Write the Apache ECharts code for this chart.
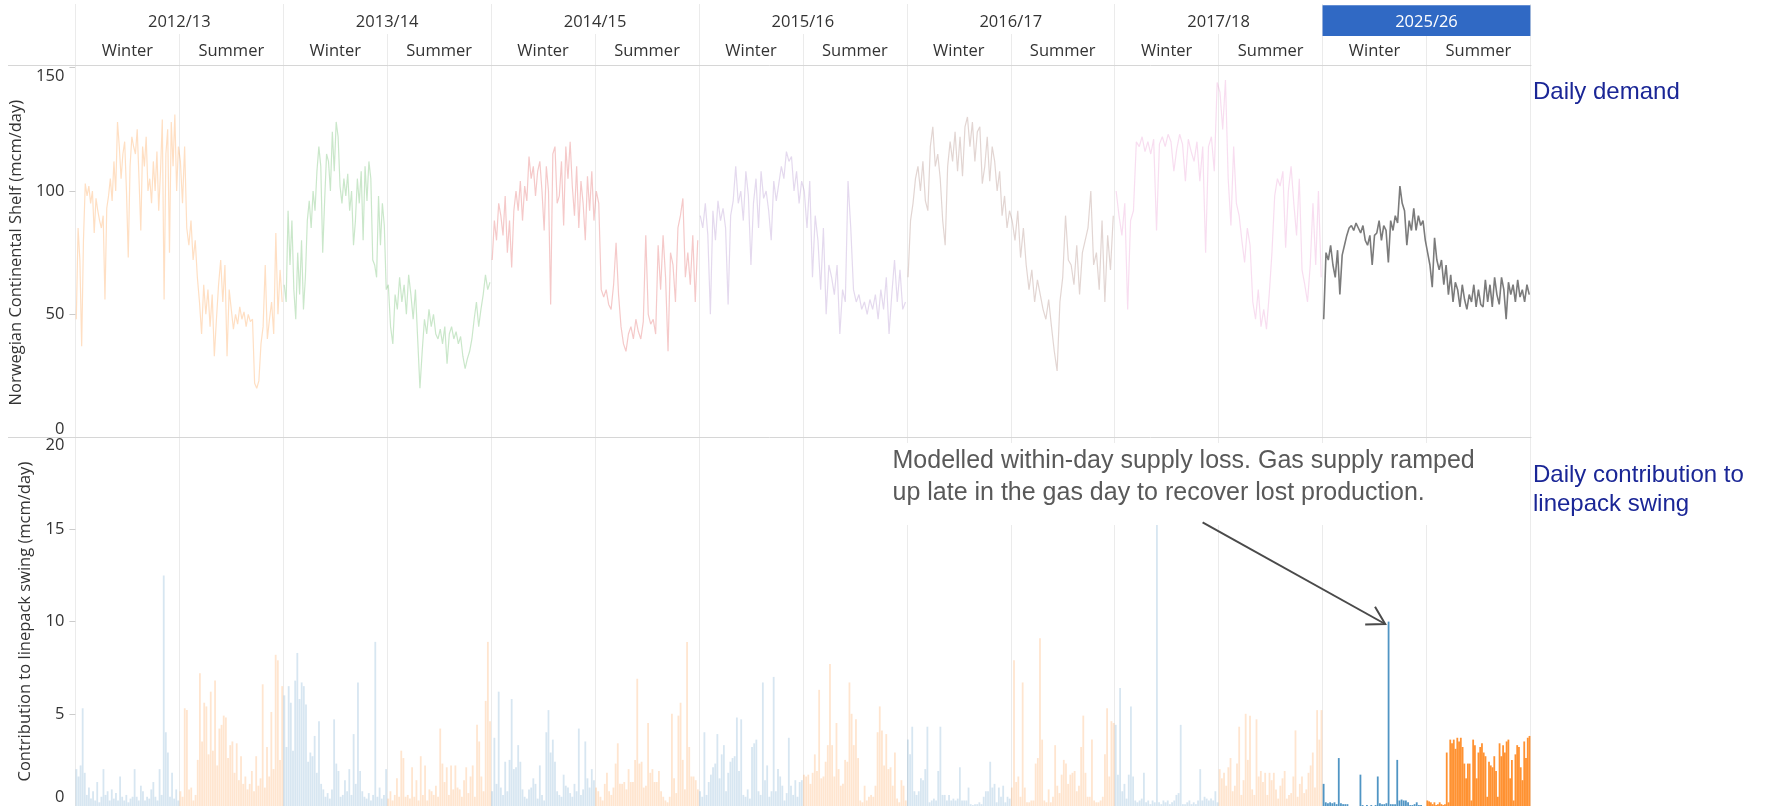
<!DOCTYPE html>
<html>
<head>
<meta charset="utf-8">
<script src="https://cdn.jsdelivr.net/npm/echarts@6/dist/echarts.min.js"></script>
<style>
html,body{margin:0;padding:0;background:#fff;}
#chart{width:1765px;height:806px;}
</style>
</head>
<body>
<div id="chart"></div>
<script>
// ---------- categories & ticks ----------
const years = ['2012/13','2013/14','2014/15','2015/16','2016/17','2017/18','2025/26'];
const seasons = ['Winter','Summer'];
const highlightYear = '2025/26';
const demandTicks = [0, 50, 100, 150];
const swingTicks = [0, 5, 10, 15, 20];
const demandTitle = 'Norwegian Continental Shelf (mcm/day)';
const swingTitle = 'Contribution to linepack swing (mcm/day)';
const panelLabelTop = 'Daily demand';
const panelLabelBottom = ['Daily contribution to', 'linepack swing'];
const annotationText = ['Modelled within-day supply loss. Gas supply ramped', 'up late in the gas day to recover lost production.'];

// ---------- daily demand (mcm/day), sampled through each half-season ----------
const dem1213W = [48,85,72,37,80,103,98,102,95,100,83,97,92,88,85,90,56,93,98,105,96,112,100,128,118,105,115,120,100,73,110,122,118,115,125,105,84,118,110,122,100,105,95,112,100,116,92,108,129,56,115,125,75,128,110,131,100,118];
const dem1213S = [112,95,118,85,78,88,72,80,65,55,42,62,50,60,45,58,33,48,62,72,55,70,33,60,52,44,50,46,53,48,51,45,50,47,48,22,20,23,38,45,70,40,48,55,42,83,50,68,55];
const dem1314W = [62,55,92,70,88,60,48,75,58,80,52,65,88,96,85,100,92,108,118,110,75,96,115,112,100,124,108,128,122,102,95,105,98,107,92,100,78,88,105,95,108,80,110,96,112,105,72,70,65,98,78,95,86,60];
const dem1314S = [62,45,38,58,52,65,55,62,50,66,58,48,60,40,20,35,48,42,52,45,50,42,40,44,38,45,30,42,45,40,43,38,41,33,28,32,35,40,48,55,45,52,58,66,60,63];
const dem1415W = [72,88,80,95,90,82,98,75,88,69,92,100,92,104,88,102,96,114,105,110,98,108,112,100,84,110,100,54,115,118,95,98,112,86,118,105,120,102,90,110,85,104,95,80,106,92,108,88];
const dem1415S = [100,95,60,57,60,54,52,62,79,58,45,38,35,42,45,40,48,43,40,47,82,50,46,48,42,78,60,82,65,35,75,70,55,85,90,97,65,75,62,82,55,80];
const dem1516W = [90,85,95,82,50,92,80,96,88,93,85,54,90,96,110,95,100,88,108,98,70,95,105,85,108,97,100,92,80,104,96,103,110,105,116,112,114,100,108,95,104];
const dem1516S = [100,85,104,65,90,80,60,85,50,70,65,58,70,42,60,55,104,85,60,55,58,52,55,50,56,52,58,48,60,52,65,42,58,72,55,68,52,55];
const dem1617W = [65,88,95,105,110,100,112,96,92,118,126,110,115,105,88,78,110,120,112,124,108,122,106,126,130,118,128,112,124,126,103,110,122,104,118,112,100,108,90,98,85,92];
const dem1617S = [88,80,92,73,85,70,60,68,55,64,58,52,48,56,45,35,27,55,65,90,72,70,62,78,58,75,80,85,100,70,75,60,88,55,82,68,90];
const dem1718W = [100,90,82,95,52,88,92,120,118,122,116,120,115,121,84,119,122,118,123,120,108,117,123,119,104,121,116,112,120,104,118,75,118,122,108,144];
const dem1718S = [140,125,145,105,86,118,95,90,80,71,85,78,55,48,60,45,52,44,58,75,98,105,102,108,77,100,110,95,82,105,68,62,55,70,95,70,100,65];
const dem2526W = [48,75,72,78,70,65,76,58,74,78,82,85,86,84,87,85,83,86,80,78,82,70,82,83,88,80,86,84,71,88,84,90,87,102,95,92,78,88,84,93,84,90,86,88,80];
const dem2526S = [75,70,61,81,72,68,72,62,70,58,66,55,63,60,53,62,56,52,58,55,62,53,60,54,53,64,55,62,53,65,58,54,65,60,48,63,58,62,55,64,57,60,55,62,58];

// ---------- daily contribution to linepack swing (mcm/day) ----------
const sw1213W = [2.0,1.6,2.2,5.3,1.8,0.6,1.0,0.4,0.8,0.3,1.3,0.2,0.5,2.0,0.6,0.8,0.3,0.9,0.4,0.7,0.3,1.6,0.5,0.3,0.6,0.2,0.4,0.5,2.0,0.5,0.3,1.1,0.8,0.3,0.5,0.4,0.9,1.3,0.5,0.3,2.0,0.6,12.5,4.0,2.9,0.5,1.8,0.4,0.9,0.3];
const sw1213S = [0.8,0.5,5.3,5.2,0.9,1.0,0.3,0.6,2.5,7.2,3.5,5.6,5.4,2.8,6.2,3.0,6.8,2.2,4.2,4.4,4.9,4.8,2.6,3.3,3.5,1.8,3.4,1.4,2.7,1.2,1.6,0.9,1.2,1.9,0.8,2.7,1.1,1.5,6.6,1.0,3.2,1.6,5.1,2.0,8.2,7.9,2.5,6.5];
const sw1314W = [6.0,3.2,6.5,5.6,3.0,6.8,8.3,5.8,6.7,6.5,5.5,2.4,2.9,2.7,3.8,1.8,4.6,1.2,0.9,0.5,0.7,0.4,0.9,4.7,2.3,1.9,0.5,0.6,1.4,0.8,2.0,0.6,3.9,1.2,6.7,1.9,0.8,0.5,0.4,0.7,0.3,0.6,8.9,0.5,1.0,0.4,0.6,2.0];
const sw1314S = [0.4,0.8,0.3,0.6,1.5,0.5,3.0,2.6,0.5,0.6,0.4,2.1,0.5,1.4,0.3,2.7,0.6,2.2,0.3,0.9,0.8,0.6,1.1,0.5,4.2,2.3,1.3,2.1,0.6,2.2,0.9,2.2,1.0,0.9,0.5,1.4,2.1,0.7,1.6,2.2,0.5,4.4,3.5,1.6,0.8,5.7,8.9,4.6];
const sw1415W = [0.8,3.7,1.2,6.2,1.0,0.6,2.4,0.8,2.5,5.8,2.0,2.1,3.3,2.4,0.9,0.5,0.4,0.9,1.0,1.5,1.2,0.4,2.2,0.6,0.3,4.0,5.2,2.9,3.6,2.4,0.8,0.6,0.5,1.7,1.1,1.0,0.7,0.5,1.2,0.8,4.2,0.6,0.9,3.5,1.5,1.0,2.0,1.4];
const sw1415S = [1.0,0.8,0.5,0.3,1.2,1.8,0.8,0.6,1.0,2.3,3.4,1.2,1.2,1.3,0.9,2.0,1.3,1.3,2.5,6.9,2.3,2.4,1.0,1.1,4.5,1.8,2.0,1.3,1.3,1.9,0.8,0.5,0.3,0.2,0.5,5.0,1.5,0.7,4.9,5.6,2.5,0.9,8.9,3.2,1.6,1.6,1.4,0.9];
const sw1516W = [0.8,0.5,4.0,0.6,1.3,1.7,2.1,2.3,3.9,1.5,2.8,3.3,0.8,1.8,2.4,2.6,2.7,4.8,1.9,4.7,0.6,0.5,0.9,0.4,3.2,3.4,3.6,0.8,0.6,6.7,1.4,2.2,0.5,0.8,7.0,0.8,2.0,1.6,1.1,0.3,0.7,3.7,1.1,0.6,1.4,0.5,1.3,1.4];
const sw1516S = [1.7,1.6,1.7,1.2,1.8,2.8,1.9,6.3,1.5,1.6,2.4,3.3,7.7,3.3,1.6,4.5,2.0,1.1,1.2,2.5,2.4,6.7,5.0,3.3,4.7,2.6,0.3,0.2,1.1,0.3,0.5,0.6,0.5,1.1,4.0,5.4,4.1,2.2,3.9,2.0,2.1,1.1,2.9,0.4,0.2,1.4,1.1,0.3];
const sw1617W = [3.6,2.8,4.3,0.8,0.6,0.8,1.5,1.4,2.0,4.3,0.2,0.3,0.4,0.3,1.9,4.3,0.6,0.6,0.3,0.6,0.3,0.4,0.3,0.4,2.1,0.3,0.3,0.3,1.0,0.1,0.05,0.1,0.1,0.2,0.1,0.5,0.8,0.8,2.4,1.0,1.2,0.2,1.0,0.5,1.1,0.2,0.5,0.4];
const sw1617S = [1.0,7.9,1.3,1.6,0.5,6.7,1.0,0.2,0.2,0.3,0.3,2.3,2.6,9.1,3.6,0.3,0.2,0.9,0.2,0.5,3.3,1.1,0.7,1.7,2.5,2.3,1.2,1.7,1.8,1.9,0.8,1.1,3.2,4.9,1.8,0.5,0.5,3.6,0.3,0.2,0.2,0.3,0.5,2.8,5.3,1.6,4.6,4.5];
const sw1718W = [4.4,1.7,6.4,0.8,1.2,0.4,1.7,5.4,1.6,0.3,0.2,0.3,0.4,1.8,0.2,0.3,0.1,0.3,0.2,15.3,0.2,0.1,0.3,0.2,0.3,0.1,0.2,0.3,0.6,0.7,4.4,0.1,0.1,0.2,0.3,0.1,0.2,0.1,0.3,2.0,0.3,0.5,0.4,0.3,0.4,0.3,0.8,0.2];
const sw1718S = [2.0,1.5,1.8,1.1,2.1,2.6,0.8,1.1,2.3,4.3,0.6,1.4,5.0,2.5,4.9,0.9,0.6,4.7,1.6,1.9,1.3,1.8,0.6,1.8,1.4,1.8,0.9,0.4,1.1,1.5,1.9,0.4,0.6,0.7,1.6,4.1,0.5,1.2,1.6,0.7,0.9,1.8,2.2,2.9,1.0,5.2,3.6,5.2];
const sw2526W = [1.2,0.2,0.15,0.2,0.15,0.2,0.1,2.6,0.15,0.1,0.1,0.1,0,0,0,0,0,1.7,0.05,0,0.05,0,0.05,0,0.05,1.6,0.15,0.1,0.1,0.15,10.0,0.1,0.1,0.1,2.5,0.3,0.35,0.3,0.3,0.2,0.05,0.05,0.1,0.2,0.05,0.05,0,0];
const sw2526S = [0.3,0.25,0.2,0.1,0.2,0.05,0.1,0.2,0.1,0.05,0.1,2.9,0.2,3.6,3.4,3.6,3.1,3.7,3.5,3.7,3.2,2.3,1.5,2.3,2.3,0.3,3.6,3.3,1.5,2.9,3.2,3.4,2.9,2.7,0.5,2.4,2.2,2.1,2.7,1.9,0.5,3.4,2.7,3.3,2.9,3.5,3.6,1.5,2.5,0.3,2.8,3.3,3.2,2.1,1.4,3.5,2.6,3.7,3.8];

const demandByHalf = [dem1213W,dem1213S,dem1314W,dem1314S,dem1415W,dem1415S,dem1516W,dem1516S,dem1617W,dem1617S,dem1718W,dem1718S,dem2526W,dem2526S];
const swingByHalf = [sw1213W,sw1213S,sw1314W,sw1314S,sw1415W,sw1415S,sw1516W,sw1516S,sw1617W,sw1617S,sw1718W,sw1718S,sw2526W,sw2526S];

// ---------- styling ----------
const yearColors = ['#ff7f0e','#2ca02c','#d62728','#9467bd','#8c564b','#e377c2','#7b7b7b'];
const FONT = 'Open Sans';
const FS = 16.5;
const TXT = '#333333';
const GRID_LINE = '#ebebeb';
const L = 75.4, R = 1530.4;

const chart = echarts.init(document.getElementById('chart'), null, {renderer: 'canvas'});

const nHalves = years.length * seasons.length;

// demand lines: one continuous line per gas year
const series = [];
years.forEach((yr, y) => {
  const pts = [];
  seasons.forEach((s, si) => {
    const h = y * 2 + si;
    const arr = demandByHalf[h];
    arr.forEach((v, i) => pts.push([h + (i + 0.5) / arr.length, v]));
  });
  const hl = yr === highlightYear;
  series.push({
    type: 'line', name: yr, xAxisIndex: 0, yAxisIndex: 0,
    data: pts, symbol: 'none', showSymbol: false, animation: false,
    lineStyle: {color: yearColors[y], width: hl ? 1.6 : 1.2, opacity: hl ? 1 : 0.25},
    z: hl ? 5 : 3
  });
});

// swing bars
const barData = [];
swingByHalf.forEach((arr, h) => {
  const winter = h % 2 === 0;
  const hl = years[Math.floor(h / 2)] === highlightYear;
  const col = winter
    ? (hl ? 'rgba(31,119,180,0.78)' : 'rgba(31,119,180,0.18)')
    : (hl ? 'rgba(255,127,14,0.85)' : 'rgba(255,127,14,0.2)');
  arr.forEach((v, i) => barData.push({value: [h + (i + 0.5) / arr.length, v], itemStyle: {color: col}}));
});
series.push({
  type: 'bar', xAxisIndex: 1, yAxisIndex: 1, data: barData,
  barWidth: 1.8, animation: false, z: 3
});

const valueX = (gi) => ({
  type: 'value', gridIndex: gi, min: 0, max: nHalves, interval: 1,
  axisLine: {show: false}, axisTick: {show: false}, axisLabel: {show: false},
  splitLine: {show: true, lineStyle: {color: GRID_LINE, width: 1}}
});

const yAxisCommon = (ticks, name, gi) => ({
  type: 'value', gridIndex: gi,
  min: ticks[0], max: ticks[ticks.length - 1], interval: ticks[1] - ticks[0],
  axisLine: {show: false},
  axisTick: {show: true, length: 6, lineStyle: {color: '#cccccc'}},
  splitLine: {show: false},
  axisLabel: {margin: 11, fontSize: FS, color: TXT, fontFamily: FONT,
    verticalAlignMinLabel: 'bottom', verticalAlignMaxLabel: 'top'},
  name: name, nameLocation: 'middle', nameGap: 42,
  nameTextStyle: {fontSize: FS, color: TXT, fontFamily: FONT}
});

chart.setOption({
  backgroundColor: '#ffffff',
  animation: false,
  grid: [
    {left: L, right: 1765 - R, top: 67.7, height: 369.9, containLabel: false},
    {left: L, right: 1765 - R, top: 437.2, height: 371.3, containLabel: false}
  ],
  xAxis: [
    valueX(0),
    valueX(1),
    { // season header row
      type: 'category', gridIndex: 0, position: 'top', offset: 0,
      data: years.flatMap(() => seasons),
      axisLine: {show: false},
      axisTick: {show: true, interval: 0, length: 33.7, lineStyle: {color: GRID_LINE}},
      axisLabel: {interval: 0, margin: 7.4, fontSize: FS, color: TXT, fontFamily: FONT, lineHeight: 18},
      splitLine: {show: false}
    },
    { // gas-year header row
      type: 'category', gridIndex: 0, position: 'top', offset: 33.7,
      data: years,
      axisLine: {show: false},
      axisTick: {show: true, interval: 0, length: 30, lineStyle: {color: GRID_LINE}},
      axisLabel: {
        interval: 0, margin: 0,
        formatter: (v) => v === highlightYear ? '{hl|' + v + '}' : '{n|' + v + '}',
        rich: {
          n: {height: 26.7, lineHeight: 26.7, padding: [4, 0, 0, 0], fontSize: FS, color: TXT, fontFamily: FONT},
          hl: {height: 26.7, lineHeight: 26.7, padding: [4, 0, 0, 0], width: (R - L) / years.length, align: 'center',
               backgroundColor: '#3069c4', color: '#ffffff', fontSize: FS, fontFamily: FONT}
        }
      },
      splitLine: {show: false}
    }
  ],
  yAxis: [
    yAxisCommon(demandTicks, demandTitle, 0),
    yAxisCommon(swingTicks, swingTitle, 1)
  ],
  series: series
});

// ---------- annotation & frame (positioned from the data) ----------
const spikeIdx = sw2526W.indexOf(Math.max(...sw2526W));
const spikeHalf = years.indexOf(highlightYear) * 2;
const spikeX = spikeHalf + (spikeIdx + 0.5) / sw2526W.length;
const p = chart.convertToPixel({gridIndex: 1}, [spikeX, sw2526W[spikeIdx]]);
const tip = [p[0] - 3.4, p[1] + 2.4];
const start = [tip[0] - 182.6, tip[1] - 101.7];
const ang = Math.atan2(tip[1] - start[1], tip[0] - start[0]);
const headLen = 20, headAng = 0.53;
const h1 = [tip[0] - headLen * Math.cos(ang - headAng), tip[1] - headLen * Math.sin(ang - headAng)];
const h2 = [tip[0] - headLen * Math.cos(ang + headAng), tip[1] - headLen * Math.sin(ang + headAng)];

chart.setOption({
  graphic: [
    {type: 'line', z: 50, shape: {x1: 8, y1: 65.5, x2: R + 1, y2: 65.5}, style: {stroke: '#d6d6d6', lineWidth: 1}},
    {type: 'line', z: 50, shape: {x1: 8, y1: 437.5, x2: R + 1, y2: 437.5}, style: {stroke: '#d6d6d6', lineWidth: 1}},
    {type: 'rect', z: 60, shape: {x: 885, y: 443, width: 598, height: 82}, style: {fill: '#ffffff'}},
    {type: 'text', z: 61, style: {x: 892.5, y: 445, text: annotationText.join('\n'),
      font: '25px "Liberation Sans", Arial, sans-serif', lineHeight: 32, fill: '#595959'}},
    {type: 'polyline', z: 62, shape: {points: [start, tip]}, style: {stroke: '#4a4a4a', lineWidth: 2, fill: null}},
    {type: 'polyline', z: 62, shape: {points: [h1, tip, h2]}, style: {stroke: '#4a4a4a', lineWidth: 2, fill: null}},
    {type: 'text', z: 61, style: {x: 1533, y: 92, text: panelLabelTop, verticalAlign: 'middle',
      font: '24px "Liberation Sans", Arial, sans-serif', fill: '#1a2696'}},
    {type: 'text', z: 61, style: {x: 1533, y: 460.5, text: panelLabelBottom.join('\n'),
      font: '24px "Liberation Sans", Arial, sans-serif', lineHeight: 29, fill: '#1a2696'}}
  ]
});
</script>
</body>
</html>
